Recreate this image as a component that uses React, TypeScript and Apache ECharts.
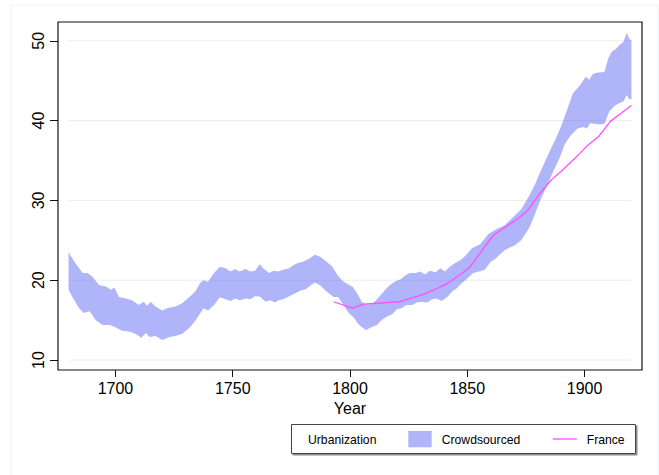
import React, { useEffect, useRef } from 'react';
import * as echarts from 'echarts';

// Crowdsourced urbanization band (upper and lower edges)
const upperYears = [1680, 1683, 1686, 1688, 1690, 1693, 1696, 1698, 1699.5, 1701.5, 1704.5, 1707, 1710, 1712, 1713.5, 1715, 1717, 1720, 1722, 1725.5, 1728.5, 1731.5, 1734, 1736, 1737.5, 1739.5, 1742, 1744.5, 1747, 1749, 1751, 1753, 1755.5, 1757.5, 1759.5, 1761.5, 1763, 1765.5, 1767.5, 1769.5, 1771.5, 1774, 1776, 1778, 1780, 1782.5, 1785, 1787.5, 1790, 1792.5, 1794.5, 1796.5, 1798.5, 1801, 1803, 1805, 1806.5, 1808.5, 1810.5, 1813, 1815, 1817, 1819.5, 1821.5, 1823.5, 1825.5, 1828, 1830, 1832, 1834, 1836.5, 1838.5, 1840.5, 1842.5, 1845, 1847, 1849, 1852, 1855.5, 1859, 1862.5, 1866, 1869.5, 1873, 1876.5, 1879, 1881.5, 1884, 1886, 1888, 1890, 1892.5, 1895, 1898, 1900.5, 1902, 1903.5, 1905, 1908.5, 1910, 1911.5, 1913.5, 1915, 1916.5, 1918, 1919, 1920];
const upperValues = [23.5, 22.1, 20.9, 20.9, 20.5, 19.4, 19.2, 18.8, 19.1, 17.9, 17.7, 17.5, 16.9, 17.3, 16.8, 17.3, 16.7, 16.2, 16.5, 16.7, 17.1, 17.9, 18.6, 19.6, 20.0, 19.8, 20.9, 21.7, 21.5, 21.1, 21.4, 21.1, 21.4, 21.1, 21.2, 22.0, 21.5, 20.9, 21.2, 21.1, 21.3, 21.5, 21.9, 22.2, 22.3, 22.7, 23.2, 22.9, 22.3, 21.7, 20.7, 20.0, 19.6, 19.2, 18.4, 17.3, 17.0, 17.0, 17.3, 18.1, 18.8, 19.4, 19.9, 20.1, 20.6, 20.9, 20.9, 21.1, 20.7, 21.2, 21.0, 21.5, 21.1, 21.7, 22.2, 22.5, 23.0, 24.0, 24.5, 25.8, 26.4, 26.9, 27.9, 28.9, 30.6, 32.1, 33.8, 35.4, 36.7, 37.9, 39.3, 41.3, 43.4, 44.4, 45.5, 45.1, 45.8, 46.0, 46.1, 47.7, 48.6, 49.0, 49.5, 49.8, 51.0, 50.3, 50.0];
const lowerYears = [1680, 1682, 1684.5, 1686.5, 1689, 1691.5, 1694.5, 1697.5, 1700, 1702.5, 1706, 1708.5, 1711, 1713, 1714.5, 1717, 1720, 1723, 1725.5, 1728.5, 1731.5, 1734, 1736, 1737.5, 1739.5, 1742, 1744.5, 1747, 1749, 1751, 1753, 1755.5, 1757.5, 1759.5, 1761.5, 1764, 1766, 1768, 1769.5, 1771.5, 1774, 1776.5, 1779, 1781, 1783, 1785, 1787.5, 1790, 1793, 1795, 1797, 1799.5, 1801.5, 1803.5, 1805.5, 1807, 1809, 1811.5, 1813.5, 1815.5, 1818, 1820, 1822, 1824, 1826.5, 1828.5, 1830.5, 1833, 1835, 1837, 1839, 1841.5, 1843.5, 1845.5, 1847.5, 1850, 1852.5, 1855, 1857.5, 1860, 1862, 1866, 1870.5, 1873, 1876.5, 1878.5, 1881.5, 1884, 1886, 1889.5, 1891.5, 1894, 1897, 1899.5, 1901, 1902.5, 1904, 1906.5, 1908.5, 1910.5, 1913, 1915, 1916.5, 1918, 1919, 1920];
const lowerValues = [18.8, 17.7, 16.5, 15.9, 16.1, 15.0, 14.4, 14.4, 14.1, 13.7, 13.55, 13.3, 12.8, 13.4, 12.9, 13.0, 12.5, 12.9, 13.0, 13.3, 14.0, 14.9, 15.8, 16.5, 16.2, 16.9, 17.85, 17.6, 17.4, 17.7, 17.5, 17.7, 17.6, 18.0, 17.95, 17.3, 17.5, 17.2, 17.5, 17.6, 17.95, 18.35, 18.7, 18.85, 19.3, 19.7, 19.3, 18.6, 17.9, 17.9, 17.0, 15.85, 15.35, 14.5, 14.0, 13.75, 14.1, 14.4, 15.0, 15.4, 15.75, 16.35, 16.5, 16.9, 16.9, 17.2, 17.3, 17.2, 17.6, 17.7, 17.4, 17.9, 18.6, 19.0, 19.6, 20.2, 20.9, 21.1, 21.3, 22.3, 22.7, 23.8, 24.4, 25.0, 26.6, 28.0, 30.3, 31.8, 33.2, 35.4, 37.0, 38.1, 39.0, 39.2, 39.0, 39.7, 39.6, 39.5, 39.6, 41.1, 41.9, 42.2, 42.4, 43.2, 42.7, 42.7];

// France urbanization
const franceYears = [1793, 1801, 1806, 1821, 1831, 1836, 1841, 1846, 1851, 1856, 1861, 1866, 1872, 1876, 1881, 1886, 1891, 1896, 1901, 1906, 1911, 1916, 1920];
const franceValues = [17.3, 16.5, 17.0, 17.3, 18.2, 18.8, 19.5, 20.5, 21.6, 23.6, 25.6, 26.6, 27.8, 28.8, 30.9, 32.6, 33.9, 35.3, 36.8, 38.0, 39.9, 41.0, 41.9];

const xTicks = [1700, 1750, 1800, 1850, 1900];
const yTicks = [10, 20, 30, 40, 50];
const legendTitle = 'Urbanization';
const seriesNames = ['Crowdsourced', 'France'];
const xTitle = 'Year';

const BAND = 'rgba(80,90,245,0.45)';
const BAND_SOLID = '#b0b5fa';
const FRANCE = '#ff4dff';
const FONT = '"Liberation Sans", Arial, Helvetica, sans-serif';

export default function App() {
  const ref = useRef<HTMLDivElement>(null);
  useEffect(() => {
    const chart = echarts.init(ref.current!, null, { renderer: 'svg' });
    const upper = upperYears.map((y, i) => [y, upperValues[i]]);
    const lower = lowerYears.map((y, i) => [y, lowerValues[i]]);
    const france = franceYears.map((y, i) => [y, franceValues[i]]);
    const x0 = Math.min(...upperYears);
    const x1 = Math.max(...upperYears);

    const gridSeries = yTicks.map((v) => ({
      type: 'line',
      silent: true,
      data: [[x0, v], [x1, v]],
      symbol: 'none',
      lineStyle: { color: '#ececec', width: 1 },
      z: 1,
    }));

    chart.setOption({
      animation: false,
      backgroundColor: '#ffffff',
      textStyle: { fontFamily: FONT },
      grid: {
        left: 58,
        top: 22,
        right: 17,
        bottom: 105,
        show: true,
        borderColor: '#111',
        borderWidth: 1.2,
        backgroundColor: 'transparent',
      },
      xAxis: {
        type: 'value',
        min: 1675.5,
        max: 1924.5,
        name: xTitle,
        nameLocation: 'middle',
        nameGap: 27,
        nameTextStyle: { fontSize: 16, color: '#000', fontFamily: FONT },
        axisLine: { show: false },
        axisTick: { show: true, length: 7, customValues: xTicks, lineStyle: { color: '#111', width: 1 } },
        axisLabel: {
          customValues: xTicks,
          fontSize: 16,
          color: '#000',
          margin: 10,
          fontFamily: FONT,
          formatter: (v: number) => String(v),
        },
        splitLine: { show: false },
      },
      yAxis: {
        type: 'value',
        min: 8.75,
        max: 52.35,
        axisLine: { show: false },
        axisTick: { show: true, length: 8, customValues: yTicks, lineStyle: { color: '#111', width: 1 } },
        axisLabel: {
          customValues: yTicks,
          fontSize: 16,
          color: '#000',
          rotate: 90,
          margin: 12,
          fontFamily: FONT,
          formatter: (v: number) => String(v),
        },
        splitLine: { show: false },
      },
      graphic: [
        {
          type: 'rect',
          shape: { x: 11, y: 5, width: 647, height: 480 },
          style: { fill: 'none', stroke: '#eef1f4', lineWidth: 1 },
          silent: true,
          z: -10,
        },
        {
          type: 'rect',
          shape: { x: 291.5, y: 424.5, width: 344, height: 29 },
          style: { fill: '#fff', stroke: '#444', lineWidth: 1, shadowColor: 'rgba(0,0,0,0.45)', shadowOffsetX: 1.5, shadowOffsetY: 1.5, shadowBlur: 0 },
          z: 10,
        },
        {
          type: 'text',
          x: 308,
          y: 439.5,
          style: { text: legendTitle, font: `12.2px ${FONT}`, fill: '#000', verticalAlign: 'middle', textAlign: 'left' },
          z: 11,
        },
        {
          type: 'rect',
          shape: { x: 408.3, y: 431, width: 23.4, height: 16.3 },
          style: { fill: BAND_SOLID },
          z: 11,
        },
        {
          type: 'text',
          x: 441.7,
          y: 439.5,
          style: { text: seriesNames[0], font: `12.2px ${FONT}`, fill: '#000', verticalAlign: 'middle', textAlign: 'left' },
          z: 11,
        },
        {
          type: 'line',
          shape: { x1: 552.7, y1: 439, x2: 576.7, y2: 439 },
          style: { stroke: FRANCE, lineWidth: 1.3 },
          z: 11,
        },
        {
          type: 'text',
          x: 586.7,
          y: 439.5,
          style: { text: seriesNames[1], font: `12.2px ${FONT}`, fill: '#000', verticalAlign: 'middle', textAlign: 'left' },
          z: 11,
        },
      ],
      series: [
        ...gridSeries,
        {
          type: 'custom',
          name: seriesNames[0],
          data: [[upperYears[0], upperValues[0]]],
          z: 2,
          renderItem: (params: any, api: any) => {
            if (params.dataIndex !== 0) return null;
            const pts = upper
              .map((p) => api.coord(p))
              .concat(lower.slice().reverse().map((p) => api.coord(p)));
            return {
              type: 'polygon',
              shape: { points: pts },
              style: { fill: BAND, stroke: 'none' },
            };
          },
        },
        {
          type: 'line',
          name: seriesNames[1],
          data: france,
          symbol: 'none',
          lineStyle: { color: FRANCE, width: 1.3 },
          z: 3,
        },
      ],
    });
    return () => chart.dispose();
  }, []);
  return (
    <div
      ref={ref}
      style={{ position: 'fixed', left: 0, top: 0, width: 659, height: 475, background: '#fff' }}
    />
  );
}
